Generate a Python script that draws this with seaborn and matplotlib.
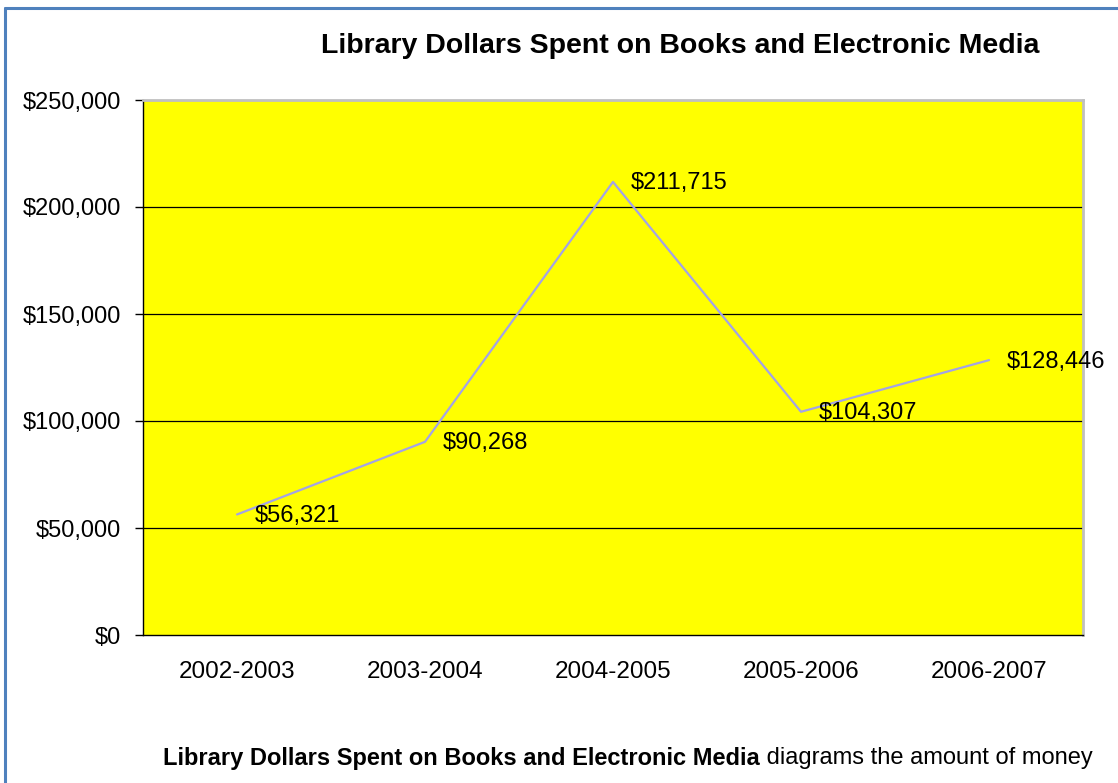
import matplotlib
matplotlib.use("Agg")
import matplotlib.pyplot as plt
from matplotlib.lines import Line2D
from matplotlib.ticker import FuncFormatter, MultipleLocator, FixedLocator
import seaborn as sns
import pandas as pd

# Fiscal years and library spending on books and electronic media
years = ["2002-2003", "2003-2004", "2004-2005", "2005-2006", "2006-2007"]
spend = [56321, 90268, 211715, 104307, 128446]

title = "Library Dollars Spent on Books and Electronic Media"
caption_bold = "Library Dollars Spent on Books and Electronic Media"
caption_rest = " diagrams the amount of money"

sns.set_theme(style="white")
plt.rcParams["font.family"] = ["Liberation Sans", "DejaVu Sans"]

df = pd.DataFrame({"year": years, "spend": spend})

fig = plt.figure(figsize=(11.18, 7.83), dpi=100)
ax = fig.add_axes([143 / 1118, 1 - 635 / 783, 940 / 1118, 535 / 783])
ax.set_facecolor("#ffff00")

sns.lineplot(data=df, x="year", y="spend", sort=False, ax=ax,
             color="#a3a3e6", linewidth=1.6, zorder=3)

ax.set_xlim(-0.5, len(years) - 0.5)
ax.set_ylim(0, 250000)
ax.yaxis.set_major_locator(MultipleLocator(50000))
ax.yaxis.set_major_formatter(FuncFormatter(lambda v, _: f"${v:,.0f}"))
ax.grid(False)
for yv in range(50000, 250000, 50000):
    ax.axhline(yv, color="black", linewidth=0.9, zorder=1)

ax.set_xlabel("")
ax.set_ylabel("")

# category boundaries carry the tick marks; labels sit between them
ax.xaxis.set_minor_locator(FixedLocator([i - 0.5 for i in range(len(years) + 1)]))
ax.tick_params(axis="x", which="major", length=0, pad=19, labelsize=17.5, colors="black")
ax.tick_params(axis="x", which="minor", length=6, width=1, color="black", direction="out")
ax.tick_params(axis="y", which="major", length=6, width=1, pad=9.5, labelsize=17,
               colors="black", direction="out", left=True)

for side in ("left", "bottom"):
    ax.spines[side].set_color("black")
    ax.spines[side].set_linewidth(1)
for side in ("top", "right"):
    ax.spines[side].set_color("#c0c0c0")
    ax.spines[side].set_linewidth(2)
    ax.spines[side].set_visible(True)

for i, v in enumerate(spend):
    ax.annotate(f"${v:,}", xy=(i, v), xytext=(13, -1), textcoords="offset points",
                ha="left", va="center", fontsize=17, color="black", zorder=4)

fig.text(680 / 1118, 1 - 46 / 783, title, ha="center", va="center",
         fontsize=20.5, fontweight="bold", color="black")

# caption: bold lead-in followed by regular text
cap_y = 1 - 758 / 783
t1 = fig.text(163 / 1118, cap_y, caption_bold, ha="left", va="center",
              fontsize=17, fontweight="bold", color="black")
fig.canvas.draw()
bb = t1.get_window_extent(renderer=fig.canvas.get_renderer())
fig.text(bb.x1 / (fig.dpi * fig.get_figwidth()), cap_y, caption_rest, ha="left",
         va="center", fontsize=17, color="black")

# slide frame edges
frame = "#4f81bd"
fig.add_artist(Line2D([5 / 1118, 5 / 1118], [0, 1 - 8 / 783], transform=fig.transFigure,
                      color=frame, linewidth=2.2))
fig.add_artist(Line2D([5 / 1118, 1], [1 - 8 / 783, 1 - 8 / 783], transform=fig.transFigure,
                      color=frame, linewidth=2.2))

fig.savefig("out.png", dpi=100)
